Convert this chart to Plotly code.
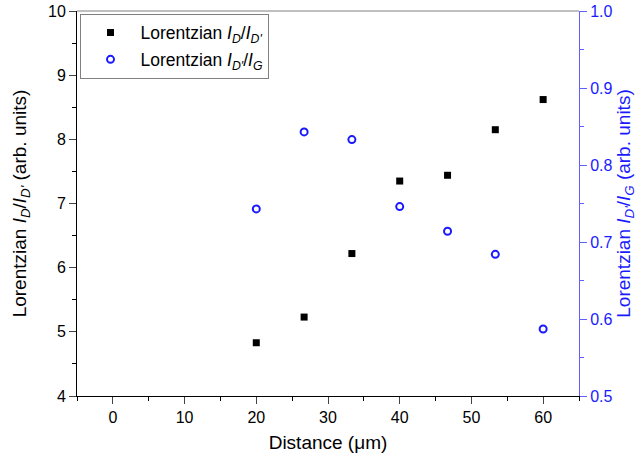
import plotly.graph_objects as go

distance = [20, 26.67, 33.33, 40, 46.67, 53.33, 60]
ratio_d_dp = [4.83, 5.23, 6.22, 7.35, 7.44, 8.15, 8.62]
ratio_dp_g = [0.743, 0.843, 0.833, 0.746, 0.714, 0.684, 0.587]

FONT = "Liberation Sans, Arial, sans-serif"
BLUE = "#1a1aff"
AXBLUE = "#6060ff"

fig = go.Figure()
fig.add_trace(go.Scatter(
    x=distance, y=ratio_d_dp, mode="markers", legendgroup="a",
    marker=dict(symbol="square", size=7, color="black"),
    name="Lorentzian <i>I<sub>D</sub></i>/<i>I<sub>D'</sub></i>",
))
fig.add_trace(go.Scatter(
    x=distance, y=ratio_dp_g, mode="markers", yaxis="y2", legendgroup="b",
    marker=dict(symbol="circle-open", size=7, color=BLUE, line=dict(width=2, color=BLUE)),
    name="Lorentzian <i>I<sub>D'</sub></i>/<i>I<sub>G</sub></i>",
))

fig.update_layout(
    width=637, height=463,
    margin=dict(l=77, r=58, t=11, b=67, autoexpand=False),
    paper_bgcolor="white", plot_bgcolor="white",
    font=dict(family=FONT, size=16, color="black"),
    showlegend=True,
    legend=dict(x=0.005, y=0.993, xanchor="left", yanchor="top",
                bordercolor="#808080", borderwidth=1, bgcolor="white",
                font=dict(size=17.5), itemwidth=50, tracegroupgap=1),
    xaxis=dict(range=[-5, 65], dtick=10, tick0=0, ticks="outside", ticklen=7, automargin=False,
               showline=True, linecolor="black", linewidth=1, showgrid=False, zeroline=False,
               minor=dict(dtick=5, tick0=-5, ticks="outside", ticklen=4, tickcolor="black"),
               title=dict(text="Distance (μm)", standoff=10),
               tickfont=dict(size=16)),
    yaxis=dict(range=[4, 10], dtick=1, ticks="outside", ticklen=7, automargin=False,
               showline=True, linecolor="black", linewidth=1, showgrid=False, zeroline=False,
               minor=dict(dtick=0.5, ticks="outside", ticklen=4, tickcolor="black"),
               title=dict(text="Lorentzian <i>I<sub>D</sub></i>/<i>I<sub>D'</sub></i> (arb. units)", standoff=16),
               tickfont=dict(size=16)),
    yaxis2=dict(range=[0.5, 1.0], dtick=0.1, overlaying="y", side="right", automargin=False,
                ticks="outside", ticklen=7, tickcolor=AXBLUE, tickformat=".1f",
                showline=True, linecolor=AXBLUE, linewidth=1, showgrid=False, zeroline=False,
                minor=dict(dtick=0.05, ticks="outside", ticklen=4, tickcolor=AXBLUE),
                tickfont=dict(size=16, color=BLUE),
                title=dict(text="Lorentzian <i>I<sub>D'</sub></i>/<i>I<sub>G</sub></i> (arb. units)",
                           font=dict(color=BLUE), standoff=14)),
    shapes=[dict(type="line", xref="paper", yref="paper", x0=0, x1=1, y0=1, y1=1,
                 line=dict(color="#808080", width=1))],
)

fig.write_html("out.html")
